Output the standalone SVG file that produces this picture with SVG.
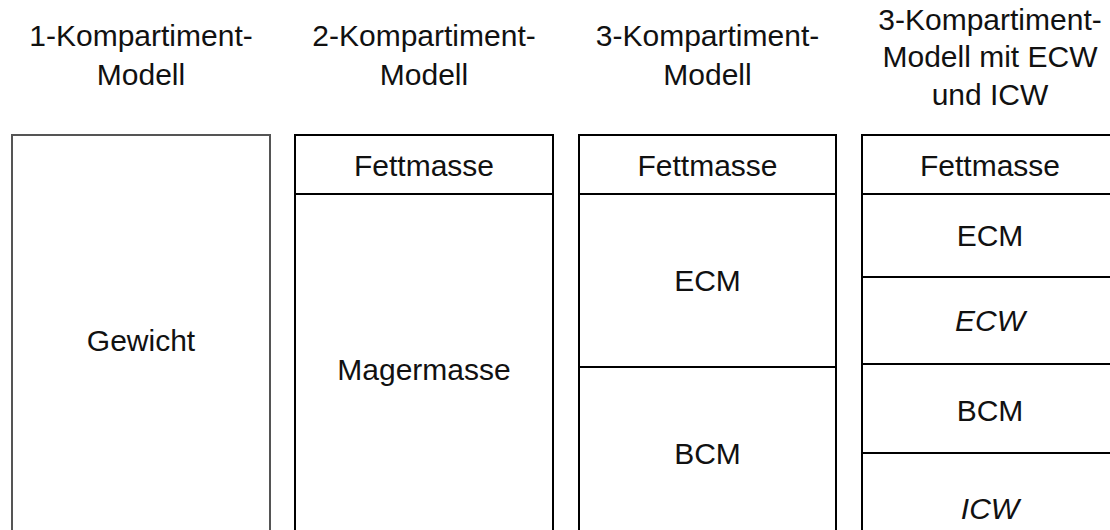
<svg xmlns="http://www.w3.org/2000/svg" width="1110" height="530" viewBox="0 0 1110 530">
  <style>
    .t { font-family: "Liberation Sans", Arial, Helvetica, sans-serif; font-size: 30px; fill: #111; text-anchor: middle; }
    .i { font-style: italic; }
    .box { fill: #fff; stroke: #000; stroke-width: 2; }
    .box1 { fill: #fff; stroke: #555; stroke-width: 2; }
    .div { stroke: #000; stroke-width: 2; fill: none; }
  </style>
  <rect width="1110" height="530" fill="#fff"/>

  <g id="headers">
    <text class="t" x="141" y="46">1-Kompartiment-</text>
    <text class="t" x="141" y="85">Modell</text>
    <text class="t" x="424" y="46">2-Kompartiment-</text>
    <text class="t" x="424" y="85">Modell</text>
    <text class="t" x="707.5" y="46">3-Kompartiment-</text>
    <text class="t" x="707.5" y="85">Modell</text>
    <text class="t" x="990" y="30">3-Kompartiment-</text>
    <text class="t" x="990" y="67">Modell mit ECW</text>
    <text class="t" x="990" y="105">und ICW</text>
  </g>

  <g id="col1-gewicht">
    <rect class="box1" x="12" y="135" width="258" height="420"/>
    <text class="t" x="141" y="351">Gewicht</text>
  </g>

  <g id="col2">
    <g id="col2-fettmasse">
      <rect class="box" x="295" y="135" width="258" height="59"/>
      <text class="t" x="424" y="176">Fettmasse</text>
    </g>
    <g id="col2-magermasse">
      <rect class="box" x="295" y="194" width="258" height="361"/>
      <text class="t" x="424" y="380">Magermasse</text>
    </g>
  </g>

  <g id="col3">
    <g id="col3-fettmasse">
      <rect class="box" x="579" y="135" width="257" height="59"/>
      <text class="t" x="707.5" y="176">Fettmasse</text>
    </g>
    <g id="col3-ecm">
      <rect class="box" x="579" y="194" width="257" height="173"/>
      <text class="t" x="707.5" y="291">ECM</text>
    </g>
    <g id="col3-bcm">
      <rect class="box" x="579" y="367" width="257" height="188"/>
      <text class="t" x="707.5" y="464">BCM</text>
    </g>
  </g>

  <g id="col4">
    <g id="col4-fettmasse">
      <rect class="box" x="862" y="135" width="258" height="59"/>
      <text class="t" x="990" y="176">Fettmasse</text>
    </g>
    <g id="col4-ecm">
      <rect class="box" x="862" y="194" width="258" height="83"/>
      <text class="t" x="990" y="246">ECM</text>
    </g>
    <g id="col4-ecw">
      <rect class="box" x="862" y="277" width="258" height="87"/>
      <text class="t i" x="990" y="331">ECW</text>
    </g>
    <g id="col4-bcm">
      <rect class="box" x="862" y="364" width="258" height="89"/>
      <text class="t" x="990" y="421">BCM</text>
    </g>
    <g id="col4-icw">
      <rect class="box" x="862" y="453" width="258" height="102"/>
      <text class="t i" x="990" y="519">ICW</text>
    </g>
  </g>
</svg>
